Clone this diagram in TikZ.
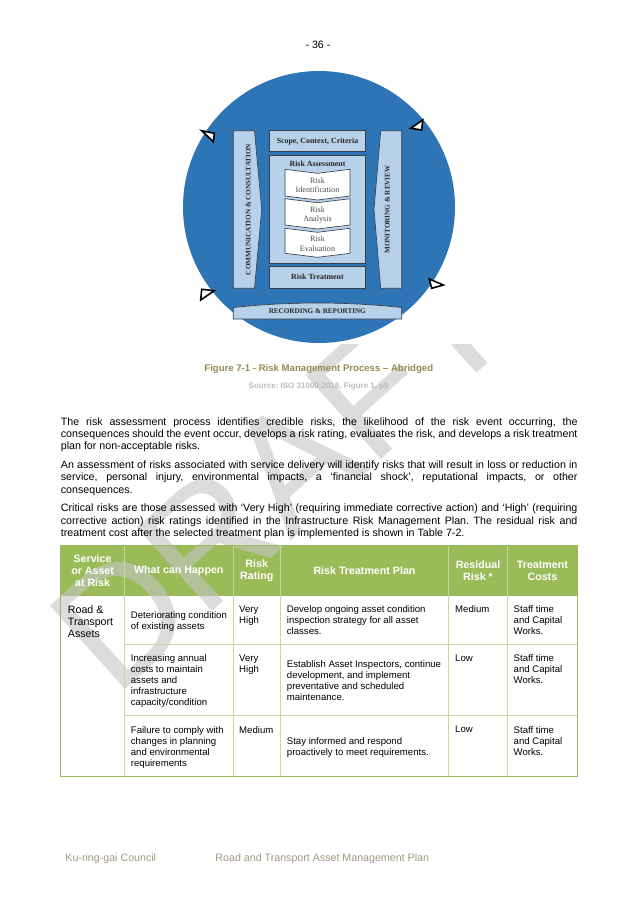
\documentclass[tikz,border=0pt]{standalone}
\usepackage{fontspec}
\setmainfont{Liberation Sans}
\newfontfamily\wheelfont{Liberation Serif}
\usepackage{tikz}
\frenchspacing
\pgfdeclarelayer{tablelayer}
\pgfdeclarelayer{marklayer}
\pgfdeclarelayer{edgelayer}
\pgfdeclarelayer{nodelayer}
\pgfsetlayers{tablelayer,marklayer,edgelayer,nodelayer,main}
\definecolor{wheelblue}{RGB}{46,117,182}
\definecolor{panelblue}{RGB}{184,209,234}
\definecolor{panelline}{RGB}{55,62,72}
\definecolor{headgreen}{RGB}{155,187,89}
\definecolor{rulegreen}{RGB}{198,217,160}
\definecolor{captiontan}{RGB}{148,138,84}
\definecolor{sourcegray}{RGB}{188,188,188}
\definecolor{footertan}{RGB}{160,152,128}
\definecolor{markgray}{RGB}{196,196,196}
\tikzstyle{none} = []
\tikzstyle{panel} = [fill=panelblue, draw=panelline, line width=0.6pt]
\tikzstyle{chevron} = [fill=white, draw=panelline, line width=0.6pt]
\tikzstyle{pointer} = [fill=white, draw=black, line width=1.5pt, line join=miter]
\tikzstyle{boxlabel} = [inner sep=0, font=\wheelfont\bfseries\fontsize{7.4}{8}\selectfont, text=black!85]
\tikzstyle{sidelabel} = [inner sep=0, rotate=90, font=\wheelfont\bfseries\fontsize{6.7}{7}\selectfont, text=black!85]
\tikzstyle{steplabel} = [inner sep=0, align=center, font=\wheelfont\fontsize{7.6}{8.7}\selectfont, text=black!70]
\tikzstyle{para} = [anchor=north west, inner sep=0, text width=170.3mm, align=justify, font=\fontsize{10}{11.6}\selectfont]
\tikzstyle{headcell} = [inner sep=0, align=center, text=white, font=\bfseries\fontsize{10}{11.5}\selectfont]
\tikzstyle{cell} = [anchor=north west, inner sep=0, align=left, font=\fontsize{9}{10.4}\selectfont]
\tikzstyle{tablerule} = [draw=headgreen, line width=0.9pt]
\tikzstyle{cellrule} = [draw=rulegreen, line width=0.7pt]
\tikzstyle{watermark} = [anchor=base west, inner sep=0, rotate=42, font=\fontsize{153}{153}\selectfont, text=markgray, text opacity=0.6]

\begin{document}
\begin{tikzpicture}[x=0.32967mm, y=-0.32967mm]
	\useasboundingbox (0,0) rectangle (637,901);
	\begin{pgfonlayer}{tablelayer}
		\fill [headgreen] (60.7,545.7) rectangle (577.3,595.7);
	\end{pgfonlayer}
	\begin{pgfonlayer}{marklayer}
		\node [style=watermark] (0) at (115,699) {DRAFT};
	\end{pgfonlayer}
	\begin{pgfonlayer}{edgelayer}
		% figure 7-1
		\fill [white] (170,55) rectangle (470,344);
		\fill [wheelblue] (319,207) circle [radius=136];
		\draw [style=panel] (233.3,130.7) -- (254.5,130.7) -- (261.7,209.5) -- (254.5,288.3) -- (233.3,288.3) -- cycle;
		\draw [style=panel] (380.7,130.7) -- (401.7,130.7) -- (401.7,288.3) -- (380.7,288.3) -- (374,209.5) -- cycle;
		\draw [style=panel] (269.3,130.7) rectangle (365.7,151.7);
		\draw [style=panel] (269.3,155.7) rectangle (365.7,263.3);
		\draw [style=panel] (269.3,266.7) rectangle (365.7,288.3);
		\draw [style=panel] (233.3,307.5) .. controls (290,301.5) and (345,301.5) .. (401.7,307.5) -- (401.7,319) -- (233.3,319) -- cycle;
		\draw [style=chevron] (285,169.3) -- (317.5,173.3) -- (350,169.3) -- (350,196) -- (317.5,200) -- (285,196) -- cycle;
		\draw [style=chevron] (285,198.7) -- (317.5,202.7) -- (350,198.7) -- (350,225) -- (317.5,229) -- (285,225) -- cycle;
		\draw [style=chevron] (285,228.3) -- (317.5,232.3) -- (350,228.3) -- (350,253.3) -- (317.5,257.3) -- (285,253.3) -- cycle;
		\draw [style=pointer] (201.7,130.7) -- (214.3,133.3) -- (213.3,141.7) -- cycle;
		\draw [style=pointer] (410.7,128.3) -- (422.7,120) -- (421.7,130) -- cycle;
		\draw [style=pointer] (201.7,289.3) -- (214.3,290.7) -- (200.7,300) -- cycle;
		\draw [style=pointer] (429.3,279) -- (443.3,285) -- (431.7,288.3) -- cycle;
		% table 7-2
		\draw [style=cellrule] (124.5,595.7) -- (124.5,776);
		\draw [style=cellrule] (233,595.7) -- (233,776);
		\draw [style=cellrule] (280.5,595.7) -- (280.5,776);
		\draw [style=cellrule] (448.5,595.7) -- (448.5,776);
		\draw [style=cellrule] (507.5,595.7) -- (507.5,776);
		\draw [style=cellrule] (124.5,644.3) -- (577.3,644.3);
		\draw [style=cellrule] (124.5,715.7) -- (577.3,715.7);
		\draw [draw=headgreen!60!white, line width=0.5pt] (124.5,545.7) -- (124.5,595.7);
		\draw [draw=headgreen!60!white, line width=0.5pt] (233,545.7) -- (233,595.7);
		\draw [draw=headgreen!60!white, line width=0.5pt] (280.5,545.7) -- (280.5,595.7);
		\draw [draw=headgreen!60!white, line width=0.5pt] (448.5,545.7) -- (448.5,595.7);
		\draw [draw=headgreen!60!white, line width=0.5pt] (507.5,545.7) -- (507.5,595.7);
		\draw [style=tablerule] (60.7,545.7) rectangle (577.3,776);
	\end{pgfonlayer}
	\begin{pgfonlayer}{nodelayer}
		\node [anchor=base, font=\fontsize{10}{12}\selectfont] (1) at (318,48.5) {- 36 -};
		\node [style=boxlabel] (2) at (317.5,141.5) {Scope, Context, Criteria};
		\node [style=boxlabel] (3) at (317.5,163.3) {Risk Assessment};
		\node [style=boxlabel] (4) at (317.5,277) {Risk Treatment};
		\node [style=sidelabel] (5) at (248.3,209.5) {COMMUNICATION \& CONSULTATION};
		\node [style=sidelabel] (6) at (387.3,209.5) {MONITORING \& REVIEW};
		\node [style=sidelabel, rotate=-90] (7) at (317.3,310.7) {RECORDING \& REPORTING};
		\node [style=steplabel] (8) at (317.5,185) {Risk\\Identification};
		\node [style=steplabel] (9) at (317.5,214.7) {Risk\\Analysis};
		\node [style=steplabel] (10) at (317.5,243.7) {Risk\\Evaluation};
		\node [anchor=base, font=\bfseries\fontsize{9}{10}\selectfont, text=captiontan] (11) at (318.8,371.6) {Figure 7-1 - Risk Management Process – Abridged};
		\node [anchor=base, font=\bfseries\fontsize{7.5}{9}\selectfont, text=sourcegray] (12) at (318.7,388) {Source: ISO 31000:2018, Figure 1, p9};
		\node [style=para] (13) at (60.7,417.1) {The risk assessment process identifies credible risks, the likelihood of the risk event occurring, the\linebreak consequences should the event occur, develops a risk rating, evaluates the risk, and develops a risk treatment\linebreak plan for non-acceptable risks.};
		\node [style=para] (14) at (60.7,460.4) {An assessment of risks associated with service delivery will identify risks that will result in loss or reduction in\linebreak service, personal injury, environmental impacts, a ‘financial shock’, reputational impacts, or other\linebreak consequences.};
		\node [style=para] (15) at (60.7,503.7) {Critical risks are those assessed with ‘Very High’ (requiring immediate corrective action) and ‘High’ (requiring\linebreak corrective action) risk ratings identified in the Infrastructure Risk Management Plan. The residual risk and\linebreak treatment cost after the selected treatment plan is implemented is shown in Table 7-2.};
		\node [style=headcell] (16) at (92.6,570.7) {Service\\or Asset\\at Risk};
		\node [style=headcell] (17) at (178.75,570.7) {What can Happen};
		\node [style=headcell] (18) at (256.75,570.7) {Risk\\Rating};
		\node [style=headcell] (19) at (364.5,570.7) {Risk Treatment Plan};
		\node [style=headcell] (20) at (478,570.7) {Residual\\Risk *};
		\node [style=headcell] (21) at (542.4,570.7) {Treatment\\Costs};
		\node [style=cell, font=\fontsize{10}{11.4}\selectfont] (22) at (67.7,605.4) {Road \&\\Transport\\Assets};
		\node [style=cell] (23) at (130.7,610.9) {Deteriorating condition\\of existing assets};
		\node [style=cell] (24) at (239,605.2) {Very\\High};
		\node [style=cell] (25) at (286.7,605.2) {Develop ongoing asset condition\\inspection strategy for all asset\\classes.};
		\node [style=cell] (26) at (455,605.6) {Medium};
		\node [style=cell] (27) at (513.5,605.2) {Staff time\\and Capital\\Works.};
		\node [style=cell] (28) at (130.7,654.2) {Increasing annual\\costs to maintain\\assets and\\infrastructure\\capacity/condition};
		\node [style=cell] (29) at (239,654.2) {Very\\High};
		\node [style=cell] (30) at (286.7,659.9) {Establish Asset Inspectors, continue\\development, and implement\\preventative and scheduled\\maintenance.};
		\node [style=cell] (31) at (455,654.2) {Low};
		\node [style=cell] (32) at (513.5,654.2) {Staff time\\and Capital\\Works.};
		\node [style=cell] (33) at (130.7,725.9) {Failure to comply with\\changes in planning\\and environmental\\requirements};
		\node [style=cell] (34) at (239,725.9) {Medium};
		\node [style=cell] (35) at (286.7,737.2) {Stay informed and respond\\proactively to meet requirements.};
		\node [style=cell] (36) at (455,725.9) {Low};
		\node [style=cell] (37) at (513.5,725.9) {Staff time\\and Capital\\Works.};
		\node [anchor=base west, font=\fontsize{10}{12}\selectfont, text=footertan] (38) at (61.7,861.5) {Ku-ring-gai Council};
		\node [anchor=base west, font=\fontsize{10}{12}\selectfont, text=footertan] (39) at (211.7,861.5) {Road and Transport Asset Management Plan};
	\end{pgfonlayer}
\end{tikzpicture}
\end{document}
